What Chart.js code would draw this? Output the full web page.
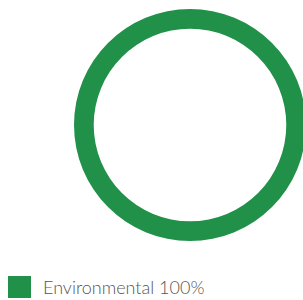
<!DOCTYPE html>
<html>
<head>
<meta charset="utf-8">
<script src="https://cdn.jsdelivr.net/npm/chart.js@4/dist/chart.umd.min.js"></script>
<style>
  html, body { margin: 0; padding: 0; background: #fff; }
  body { width: 303px; height: 300px; position: relative; overflow: hidden; }
  #chartBox { position: absolute; left: 74px; top: 9px; width: 232px; height: 232px; }
  #legend { position: absolute; left: 8px; top: 276px; font-family: Lato, sans-serif; font-weight: 300; font-size: 18px; color: #555; }
  .item { display: flex; align-items: center; white-space: nowrap; }
  .swatch { width: 23px; height: 22px; margin-right: 12px; }
</style>
</head>
<body>
<div id="chartBox"><canvas id="doughnutChart"></canvas></div>
<div id="legend"></div>
<script>
// Chart data
const labels = ['Environmental'];
const values = [100];
const colors = ['#21914a'];

document.addEventListener('DOMContentLoaded', function() {
    const ctx = document.getElementById('doughnutChart').getContext('2d');

    new Chart(ctx, {
        type: 'doughnut',
        data: {
            labels: labels,
            datasets: [{
                data: values,
                backgroundColor: colors,
                borderWidth: 0
            }]
        },
        options: {
            responsive: true,
            maintainAspectRatio: false,
            animation: false,
            cutout: '83%',
            layout: { padding: 0 },
            plugins: {
                legend: { display: false },
                tooltip: { enabled: false }
            }
        }
    });

    // Build legend from the same arrays
    const legend = document.getElementById('legend');
    labels.forEach(function(label, i) {
        const item = document.createElement('div');
        item.className = 'item';
        const sw = document.createElement('span');
        sw.className = 'swatch';
        sw.style.background = colors[i];
        const txt = document.createElement('span');
        txt.textContent = label + ' ' + values[i] + '%';
        item.appendChild(sw);
        item.appendChild(txt);
        legend.appendChild(item);
    });
});
</script>
</body>
</html>
